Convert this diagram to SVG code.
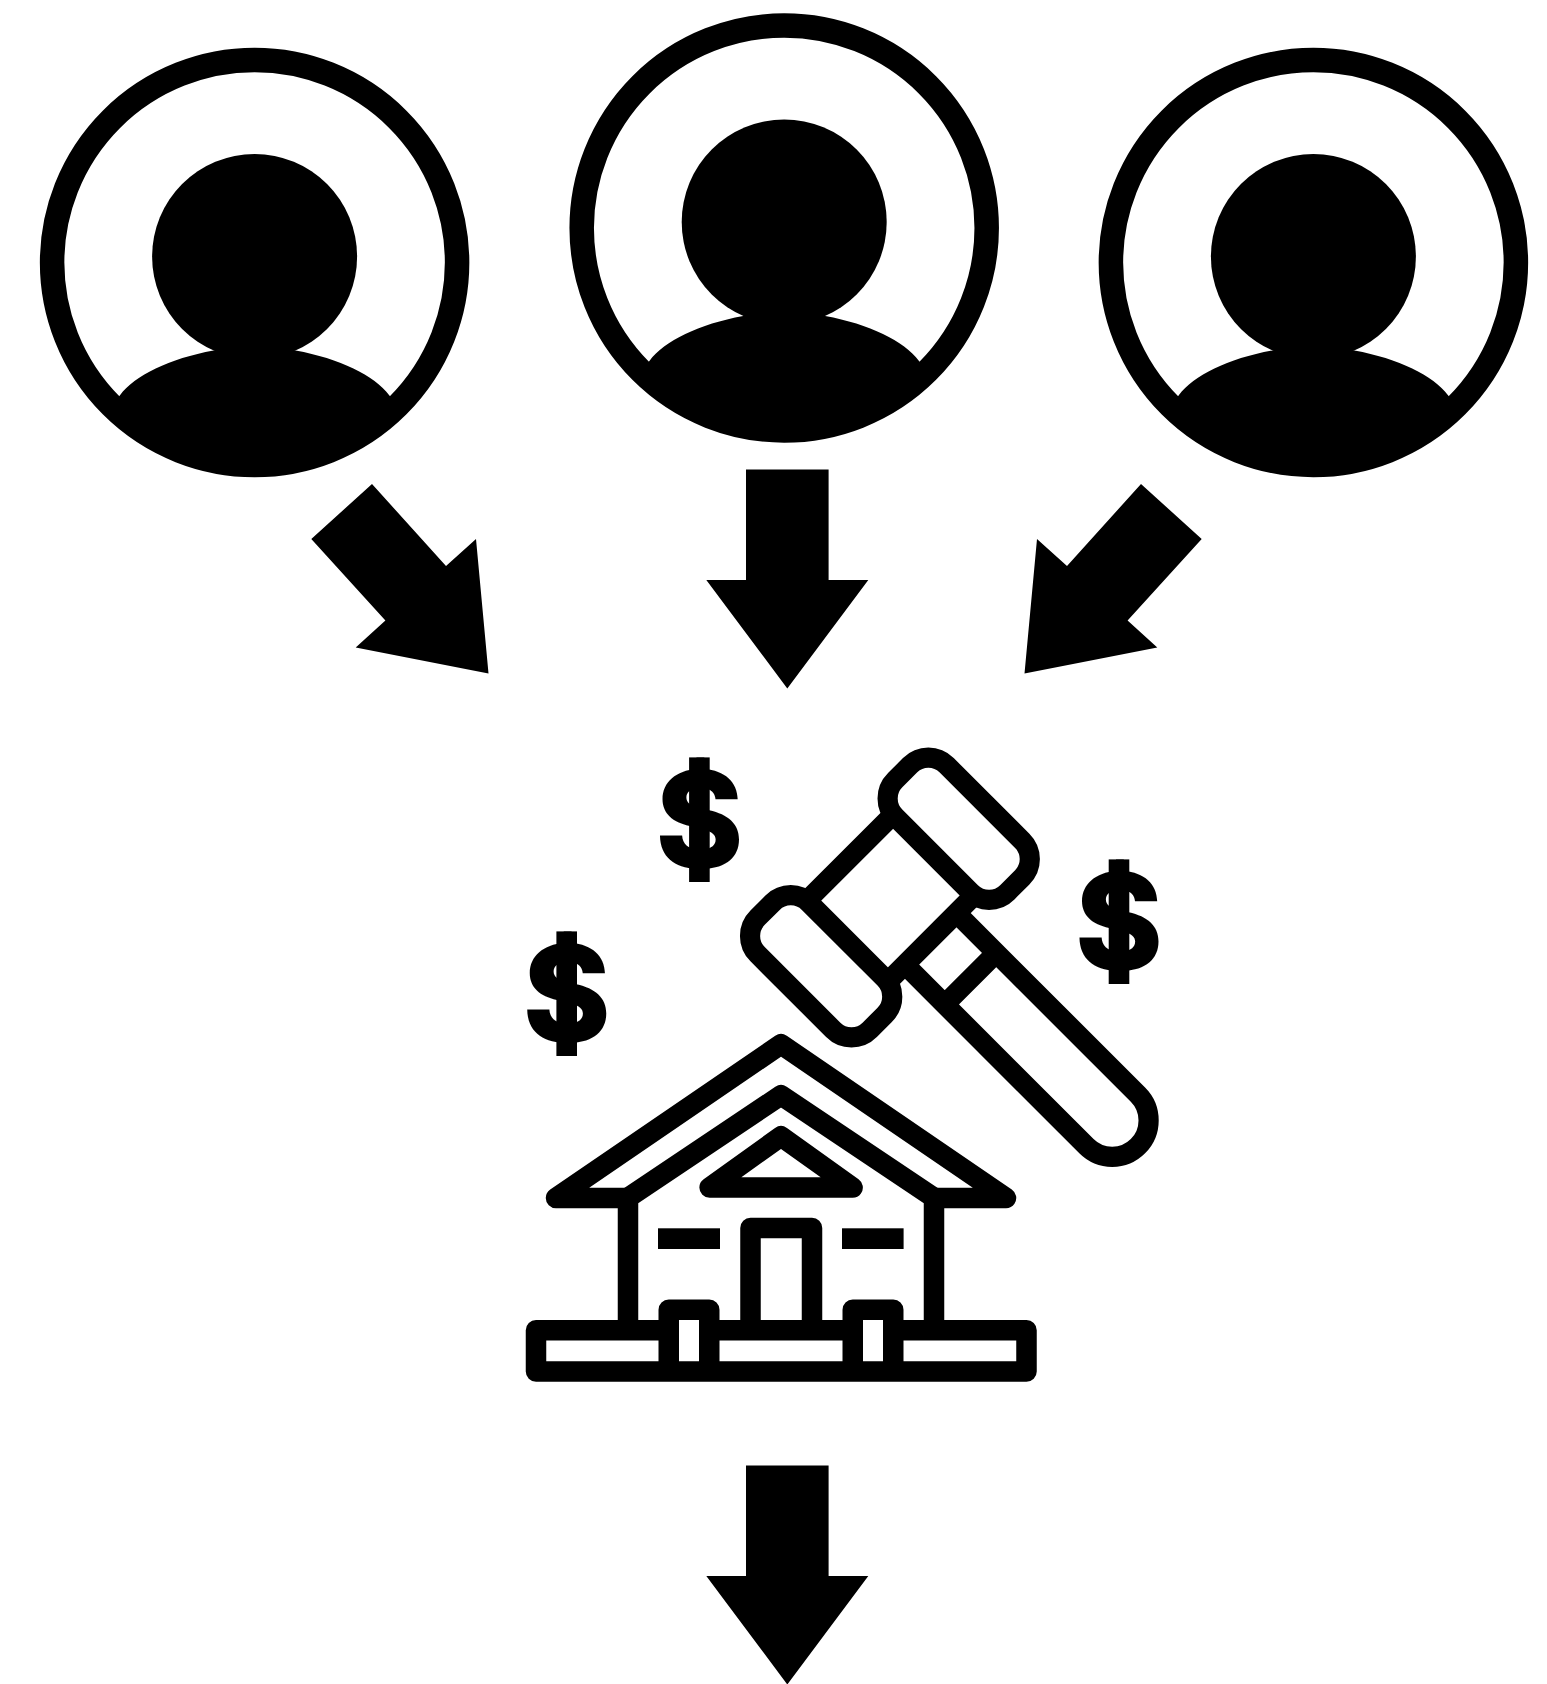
<svg xmlns="http://www.w3.org/2000/svg" width="1547" height="1684" viewBox="0 0 1547 1684">
<style>
.ln{fill:none;stroke:#000;stroke-width:20.5;stroke-linejoin:round}
.gv{fill:#fff;stroke:#000;stroke-width:18.8;stroke-linejoin:round}
.gl{fill:none;stroke:#000;stroke-width:18.8}
.dl{font-family:Inter,sans-serif;font-weight:800;font-size:134px;text-anchor:middle;fill:#000}
</style>
<defs>
<g id="person">
<circle cx="0" cy="0" r="202.5" fill="#fff" stroke="#000" stroke-width="24.5"/>
<circle cx="0" cy="-6" r="102.5" fill="#000"/>
<path d="M-134.6,132.7C-120,113 -85,96 -41,88H41C85,96 120,113 134.6,132.7L143,143A202,202 0 0 1 -143,143Z" fill="#000"/>
</g>
<polygon id="downArrow" points="-41.3,0 41.3,0 41.3,110.5 81,110.5 0,219 -81,110.5 -41.3,110.5"/>
<polygon id="diagArrow" points="372,484 446,566 476,539 488.5,673.5 355.7,647.6 385.4,620.5 311.3,539"/>
<rect id="dollarBar" x="-10.3" y="0" width="20.6" height="124.6"/>
</defs>
<rect width="1547" height="1684" fill="#fff"/>
<g id="person-left"><use href="#person" x="254.6" y="262.5"/></g>
<g id="person-center"><use href="#person" x="784.2" y="228"/></g>
<g id="person-right"><use href="#person" x="1313.4" y="262.5"/></g>
<g id="connectors">
<use href="#diagArrow"/>
<use href="#diagArrow" transform="translate(1513 0) scale(-1 1)"/>
<use href="#downArrow" x="787.3" y="469.5"/>
<use href="#downArrow" x="787.3" y="1465.5"/>
</g>
<g id="gavel">
<g transform="scale(1.0743) rotate(45)">
<path class="gl" d="M1124,-51V61M1230.5,-51V61"/>
<path class="gl" d="M1231,-28.5H1469.5A33.9,33.9 0 0 1 1469.5,39.3H1231M1283,-28.5V39.3"/>
<rect class="gv" x="1102.7" y="-119.4" width="147.6" height="67.7" rx="24"/>
<rect class="gv" x="1102.7" y="61.7" width="147.6" height="67.7" rx="24"/>
</g>
</g>
<g id="house">
<path class="ln" d="M628,1198H556L781,1044.3L1006,1198H934"/>
<path class="ln" d="M628,1330V1197.8L781,1095.3L934,1197.8V1330"/>
<path class="ln" d="M709.6,1187.5L781,1136.3L852.6,1187.5Z"/>
<path class="ln" d="M750.5,1330V1228H812V1330"/>
<rect x="658" y="1228.3" width="62" height="20.7"/>
<rect x="842" y="1228.3" width="61.6" height="20.7"/>
<rect class="ln" x="536" y="1330.25" width="490.5" height="41.25"/>
<path class="ln" d="M668.75,1371.5V1309.75H709.25V1371.5M852.75,1371.5V1309.75H893.25V1371.5"/>
<rect x="679" y="1320" width="20" height="41" fill="#fff"/>
<rect x="863" y="1320" width="20" height="41" fill="#fff"/>
</g>
<g id="dollars">
<g id="dollar-top"><text class="dl" x="699.4" y="868">$</text><use href="#dollarBar" x="699.4" y="757.4"/></g>
<g id="dollar-right"><text class="dl" x="1119" y="970">$</text><use href="#dollarBar" x="1119" y="859.4"/></g>
<g id="dollar-left"><text class="dl" x="566.7" y="1042">$</text><use href="#dollarBar" x="566.7" y="931.4"/></g>
</g>
</svg>
